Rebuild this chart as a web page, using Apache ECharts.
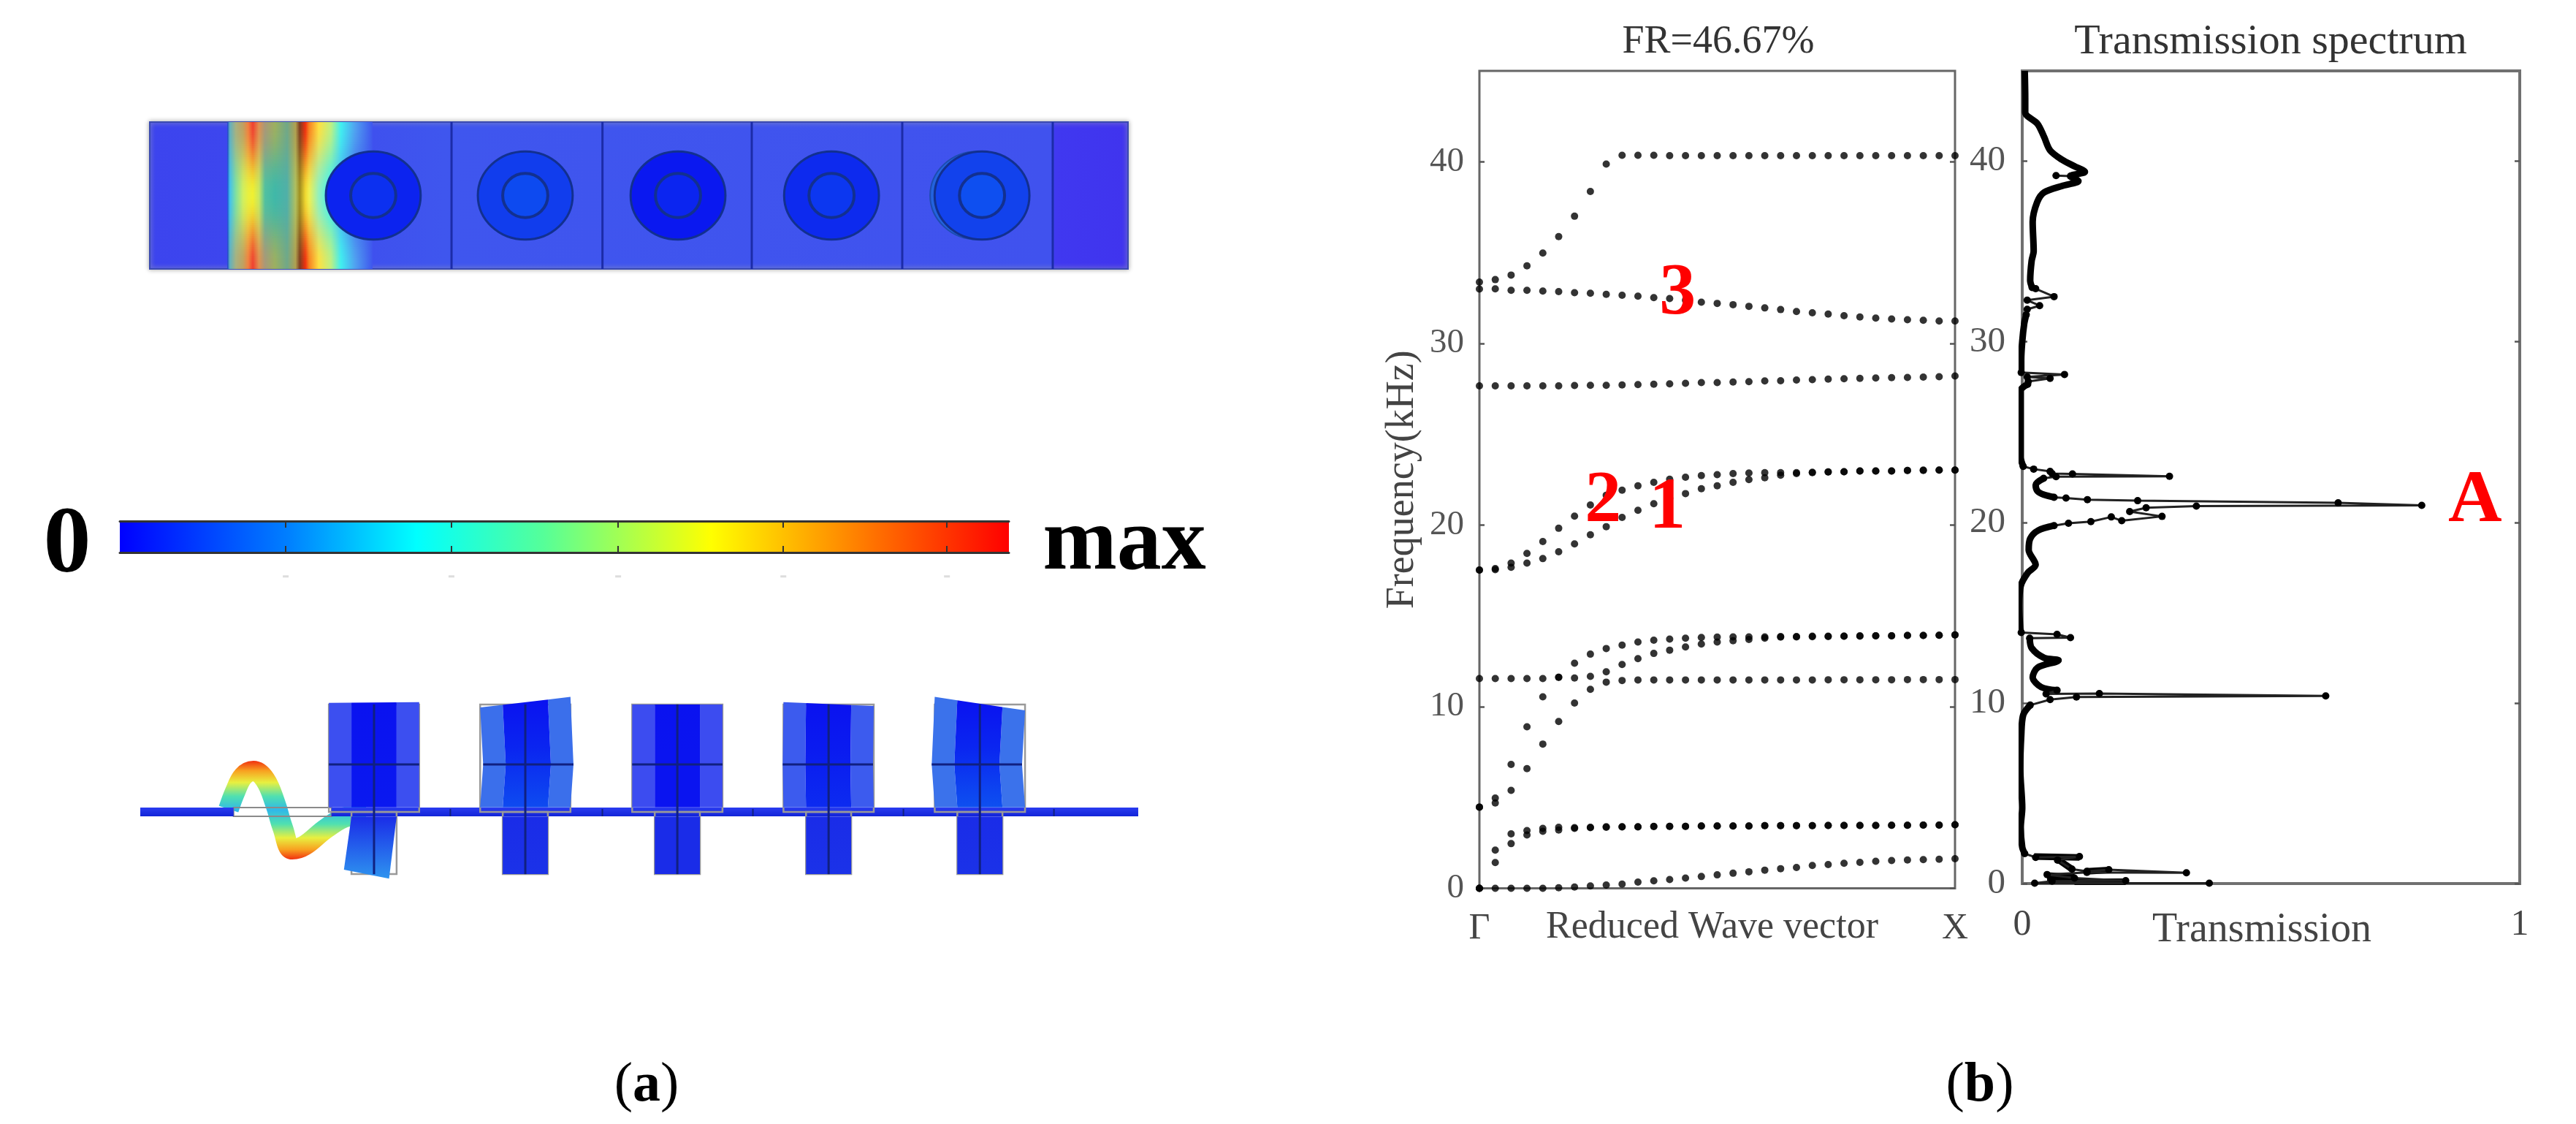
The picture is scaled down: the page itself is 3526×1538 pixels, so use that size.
<!DOCTYPE html>
<html>
<head>
    <meta charset="UTF-8">
    <title>FR=46.67%</title>
    <script src="https://cdn.jsdelivr.net/npm/echarts@6/dist/echarts.min.js"></script>
    <style>
        html, body { margin: 0; padding: 0; background: #fff; }
        #chart { width: 3526px; height: 1538px; }
    </style>
</head>
<body>
<div id="chart"></div>
<script>
    // ---- panel (b), band structure: one value per k point, 31 points from Gamma to X
    var bandAcousticA = [0, 1.42, 2.46, 2.94, 3.14, 3.21, 3.30, 3.34, 3.36, 3.38, 3.38, 3.40, 3.41, 3.41, 3.43, 3.43, 3.43, 3.43, 3.45, 3.45, 3.45, 3.45, 3.46, 3.46, 3.46, 3.46, 3.47, 3.47, 3.48, 3.48, 3.50];
    var bandAcousticB = [0, 2.10, 3.00, 3.18, 3.30, 3.36, 3.34, 3.36, 3.39, 3.39, 3.39, 3.41, 3.41, 3.41, 3.43, 3.43, 3.43, 3.43, 3.45, 3.45, 3.45, 3.45, 3.46, 3.46, 3.46, 3.46, 3.47, 3.47, 3.48, 3.48, 3.50];
    var bandLowest = [0, 0, 0, 0, 0, 0.03, 0.07, 0.13, 0.18, 0.23, 0.34, 0.41, 0.48, 0.56, 0.65, 0.74, 0.83, 0.91, 1.00, 1.08, 1.15, 1.26, 1.31, 1.38, 1.43, 1.49, 1.53, 1.56, 1.58, 1.60, 1.63];
    var bandRiseLow = [4.47, 4.70, 5.39, 6.59, 7.94, 9.18, 10.20, 10.95, 11.92, 12.32, 12.64, 12.93, 13.11, 13.29, 13.45, 13.56, 13.63, 13.70, 13.77, 13.83, 13.84, 13.85, 13.86, 13.88, 13.88, 13.90, 13.90, 13.92, 13.92, 13.93, 13.95];
    var bandRiseHigh = [4.47, 4.97, 6.82, 8.89, 10.54, 11.62, 12.39, 12.89, 13.20, 13.39, 13.56, 13.66, 13.72, 13.77, 13.81, 13.83, 13.84, 13.84, 13.84, 13.86, 13.86, 13.88, 13.88, 13.88, 13.90, 13.90, 13.90, 13.92, 13.92, 13.93, 13.95];
    var bandFlat = [11.55, 11.55, 11.55, 11.55, 11.55, 11.62, 11.58, 11.67, 11.35, 11.44, 11.47, 11.47, 11.47, 11.47, 11.47, 11.47, 11.47, 11.47, 11.47, 11.47, 11.47, 11.47, 11.48, 11.48, 11.48, 11.48, 11.48, 11.49, 11.49, 11.49, 11.49];
    var bandMode1 = [17.52, 17.54, 17.67, 17.90, 18.15, 18.53, 18.96, 19.46, 19.91, 20.42, 20.81, 21.17, 21.46, 21.73, 22.00, 22.16, 22.35, 22.50, 22.60, 22.74, 22.83, 22.88, 22.92, 22.93, 22.97, 22.97, 22.97, 23.00, 23.00, 23.02, 23.02];
    var bandMode2 = [17.52, 17.60, 17.90, 18.44, 19.09, 19.82, 20.49, 21.10, 21.64, 21.92, 22.16, 22.35, 22.52, 22.63, 22.72, 22.77, 22.83, 22.86, 22.88, 22.88, 22.88, 22.90, 22.92, 22.93, 22.97, 22.97, 22.97, 23.00, 23.02, 23.02, 23.02];
    var bandNear28 = [27.66, 27.66, 27.66, 27.66, 27.66, 27.66, 27.68, 27.69, 27.69, 27.71, 27.73, 27.75, 27.77, 27.80, 27.84, 27.84, 27.87, 27.89, 27.93, 27.94, 27.98, 28.00, 28.03, 28.05, 28.07, 28.09, 28.11, 28.12, 28.14, 28.16, 28.20];
    var bandMode3 = [32.99, 33.00, 32.92, 32.92, 32.88, 32.85, 32.79, 32.76, 32.70, 32.65, 32.60, 32.52, 32.47, 32.38, 32.27, 32.20, 32.13, 32.04, 31.95, 31.86, 31.75, 31.68, 31.61, 31.52, 31.45, 31.39, 31.34, 31.30, 31.27, 31.23, 31.23];
    var bandTop = [33.37, 33.51, 33.76, 34.27, 34.97, 35.88, 37.00, 38.36, 39.87, 40.35, 40.35, 40.35, 40.33, 40.33, 40.33, 40.33, 40.33, 40.33, 40.33, 40.33, 40.33, 40.33, 40.33, 40.33, 40.33, 40.33, 40.33, 40.33, 40.33, 40.33, 40.33];
    var bands = [bandLowest, bandAcousticA, bandAcousticB, bandRiseLow, bandRiseHigh, bandFlat, bandMode1, bandMode2, bandNear28, bandMode3, bandTop];

    var freqTicks = [0, 10, 20, 30, 40];
    var modeMarks = [[7.8, 21.3, '2'], [11.85, 20.9, '1'], [12.5, 32.74, '3']];

    // ---- panel (b), transmission spectrum: [transmission, frequency]
    var specBody = [
        [[0.005, 45], [0.006, 43.5], [0.006, 42.7], [0.031, 42.06], [0.044, 41.34], [0.056, 40.6], [0.08, 40.08], [0.105, 39.72], [0.126, 39.41], [0.097, 39.17], [0.113, 38.9], [0.08, 38.63], [0.044, 38.27], [0.03, 37.73], [0.021, 36.64], [0.023, 35], [0.019, 34.5], [0.016, 33.4], [0.02, 33]],
        [[0.008, 31.5], [0.004, 31], [0, 30], [-0.002, 29], [-0.002, 28.3]],
        [[0.011, 27.65], [-0.003, 27.3], [-0.003, 25.4], [-0.003, 23.6], [0.002, 23.1]],
        [[0.043, 22.44], [0.027, 22.08], [0.031, 21.72], [0.043, 21.54], [0.064, 21.39]],
        [[0.064, 19.82], [0.032, 19.55], [0.016, 19.1], [0.013, 18.47], [0.027, 17.65], [0.011, 17.2], [-0.003, 16.48], [-0.006, 15.39], [-0.004, 14.13], [-0.002, 13.9]],
        [[0.015, 13.59], [0.019, 13.04], [0.044, 12.5], [0.073, 12.36], [0.031, 11.96], [0.021, 11.42], [0.038, 10.88], [0.07, 10.7]],
        [[0.016, 9.88], [0.002, 9.34], [-0.002, 8.17], [-0.004, 6.36], [0, 4.19], [-0.003, 3.11], [0, 2.02], [0.005, 1.66]],
        // dense stretches of the cluster near 0 to 1.5 kHz
        [[0.024, 1.5], [0.115, 1.45]],
        [[0.071, 1.35], [0.1, 0.8]],
        [[0.13, 0.68], [0.174, 0.75]],
        [[0.05, 0.45], [0.105, 0.35]],
        [[0.05, 0.25], [0.105, 0.25]],
        [[0.105, 0.1], [0.208, 0.1]]
    ];
    var specSpikes = [
        [[0.097, 39.17], [0.068, 39.2]],
        [[0.02, 33], [0.027, 32.94], [0.064, 32.5], [0.01, 32.3], [0.035, 32], [0.01, 31.8], [0.008, 31.5]],
        [[-0.002, 28.3], [0.085, 28.19], [0.01, 28.05], [0.056, 27.97], [0.012, 27.8], [0.011, 27.65]],
        [[0.002, 23.1], [0.023, 22.95], [0.056, 22.82], [0.06, 22.7], [0.101, 22.68], [0.296, 22.55], [0.068, 22.53], [0.043, 22.44]],
        [[0.064, 21.39], [0.088, 21.35], [0.131, 21.26], [0.232, 21.2], [0.635, 21.08], [0.803, 20.94], [0.35, 20.9], [0.249, 20.81], [0.216, 20.6], [0.281, 20.33], [0.2, 20.09], [0.179, 20.3], [0.138, 20.04], [0.093, 19.95], [0.064, 19.82]],
        [[-0.002, 13.9], [0.07, 13.8], [0.097, 13.62], [0.015, 13.59]],
        [[0.07, 10.7], [0.048, 10.5], [0.155, 10.52], [0.61, 10.39], [0.109, 10.33], [0.056, 10.19], [0.016, 9.88]],
        [[0.005, 1.66], [0.027, 1.45], [0.115, 1.5], [0.071, 1.3], [0.1, 0.8], [0.13, 0.68], [0.174, 0.77], [0.33, 0.6], [0.13, 0.62], [0.05, 0.5], [0.105, 0.3], [0.208, 0.16], [0.06, 0.13], [0.025, 0.02], [0.376, 0.02]]
    ];
    var peakMarks = [[0.91, 21.15, 'A']];

    // ---- panel (a), colour bar
    var barStops = [[0, '#0000ff'], [0.19, '#0080ff'], [0.334, '#00ffff'], [0.476, '#55ff99'], [0.665, '#ffff00'], [0.85, '#ff7000'], [1, '#ff0000']];
    var barTicks = [0.1866, 0.373, 0.5605, 0.7463, 0.9303];

    // ---- panel (a), top view, in unit cells: the travelling wave band read across two rows
    var bandStopAt = [0, 0.017, 0.059, 0.109, 0.143, 0.176, 0.218, 0.26, 0.328, 0.412, 0.47, 0.499, 0.538, 0.563, 0.63, 0.714, 0.782, 0.882, 1];
    var bandEdgeRow = ['#1c40c8', '#60b0c0', '#a8b080', '#c0a060', '#f08040', '#f04030', '#e09050', '#a89878', '#9cb060', '#70a888', '#b0a050', '#803c20', '#f03010', '#f88020', '#ffe040', '#c0f080', '#40f0f0', '#50a0f0', '#3f56ee'];
    var bandMidRow = ['#1c50d0', '#40c0f0', '#80e0a0', '#d0f060', '#e8f040', '#f0f030', '#c8e860', '#50c0a0', '#40b8a8', '#50b0a8', '#b0c060', '#a09020', '#f0d830', '#f0f050', '#90f0c0', '#40f0f0', '#50b0f0', '#4068f0', '#3f56ee'];
    var cellLines = [2.005, 3.008, 4.0, 5.0, 6.0];
    var cylinderX = [1.485, 2.495, 3.51, 4.53, 5.53];
    var cylinderAmp = [0.12, 0.42, 0, 0.2, 0.48];
    var cylinderWobble = [0, 0, 0, 0, 0.03];

    // ---- panel (a), side view, in unit cells: deformed shape of each pillar
    var pillarX = [1.553, 2.558, 3.568, 4.573, 5.578];
    var pillarAmp = [0.05, 0.6, 0, 0.25, 0.65];
    var pillarTopLeft = [0.01, -0.02, 0, 0.015, 0.05];
    var pillarTopRight = [0.015, 0.05, 0, -0.01, -0.04];
    var pillarBow = [0, 0.02, 0, -0.005, -0.02];
    var pillarFootShift = [-0.05, 0, 0, 0, 0];
    var footAmp = [0.9, 0.05, 0, 0.05, 0.05];
    var plateSpans = [[0, 0.62], [1.27, 6.63]];
    var plateMarks = [2.06, 3.07, 4.07, 5.07, 6.07];
    var waveX = [0.587, 0.631, 0.684, 0.752, 0.83, 0.898, 0.947, 1.01, 1.092, 1.238, 1.383, 1.5];
    var waveY = [0.019, 0.136, 0.238, 0.272, 0.214, 0.053, -0.107, -0.248, -0.223, -0.107, -0.029, -0.02];

    var serif = '"Liberation Serif", "Times New Roman", serif';

    function hexRgb(h) {
        return [parseInt(h.substr(1, 2), 16), parseInt(h.substr(3, 2), 16), parseInt(h.substr(5, 2), 16)];
    }
    function mix(a, b, t) {
        var p = hexRgb(a), q = hexRgb(b);
        return 'rgb(' + [0, 1, 2].map(function (i) { return Math.round(p[i] + (q[i] - p[i]) * t); }).join(',') + ')';
    }
    function hGrad(stops) {
        return new echarts.graphic.LinearGradient(0, 0, 1, 0, stops);
    }
    function vGrad(stops) {
        return new echarts.graphic.LinearGradient(0, 0, 0, 1, stops);
    }

    // text placed by page position
    function caption(text, x, y, size, opt) {
        opt = opt || {};
        return {
            text: text, left: x, top: y, padding: 0, textAlign: 'center',
            textStyle: {
                fontFamily: serif, fontSize: size, fontWeight: opt.weight || 'normal', color: opt.color || '#333',
                rich: opt.rich
            }
        };
    }

    // a box in data units
    function boxShape(api, x0, x1, y0, y1) {
        var a = api.coord([x0, y1]), b = api.coord([x1, y0]);
        return { x: a[0], y: a[1], width: b[0] - a[0], height: b[1] - a[1] };
    }

    function renderField(params, api) {
        var kids = [];
        kids.push({
            type: 'rect', shape: boxShape(api, 0, 6.5, -0.5, 0.5),
            style: {
                fill: hGrad([{ offset: 0, color: '#3c44ee' }, { offset: 0.079, color: '#3d46ee' }, { offset: 0.3, color: '#3f56ee' }, { offset: 0.92, color: '#4052ee' }, { offset: 0.925, color: '#4038f0' }, { offset: 1, color: '#4034ee' }]),
                stroke: '#3a4ab0', lineWidth: 2, shadowBlur: 6, shadowColor: '#aaa'
            }
        });
        // the wave band, built as thin rows so the colours can pinch towards mid height
        var rows = 67;
        for (var r = 0; r < rows; r++) {
            var s = Math.sin(Math.PI * (r + 0.5) / rows), w = s * s;
            var stops = bandStopAt.map(function (at, i) {
                return { offset: at, color: mix(bandEdgeRow[i], bandMidRow[i], w) };
            });
            kids.push({
                type: 'rect',
                shape: boxShape(api, 0.515, 1.48, -0.5 + r / rows, Math.min(0.5, -0.5 + (r + 1.5) / rows)),
                style: { fill: hGrad(stops) }
            });
        }
        return { type: 'group', children: kids };
    }

    function renderCellLine(params, api) {
        var a = api.coord([api.value(0), -0.5]), b = api.coord([api.value(0), 0.5]);
        return { type: 'line', shape: { x1: a[0], y1: a[1], x2: b[0], y2: b[1] }, style: { stroke: '#1c2ca8', lineWidth: 3 } };
    }

    function renderCylinder(params, api) {
        var c = api.coord([api.value(0), 0]), amp = api.value(1), wob = api.size([api.value(2), 0])[0];
        var rx = api.size([0.315, 0])[0], ry = api.size([0, 0.3])[1];
        var rx2 = api.size([0.15, 0])[0], ry2 = api.size([0, 0.15])[1];
        var ring = mix('#0a18f0', '#1a70e8', amp), core = mix('#0a18f0', '#1070f0', Math.min(1, amp + 0.15));
        var kids = [];
        if (wob > 0) {
            kids.push({ type: 'ellipse', shape: { cx: c[0] - wob, cy: c[1], rx: rx, ry: ry }, style: { fill: mix('#1a70e8', '#3050d0', 0.4), stroke: '#1d4cb0', lineWidth: 2 } });
        }
        kids.push({ type: 'ellipse', shape: { cx: c[0], cy: c[1], rx: rx, ry: ry }, style: { fill: ring, stroke: '#123090', lineWidth: 3 } });
        kids.push({ type: 'ellipse', shape: { cx: c[0], cy: c[1], rx: rx2, ry: ry2 }, style: { fill: core, stroke: '#123090', lineWidth: 4 } });
        return { type: 'group', children: kids };
    }

    function renderBar(params, api) {
        var stops = barStops.map(function (s) { return { offset: s[0], color: s[1] }; });
        var kids = [{ type: 'rect', shape: boxShape(api, 0, 1, 0, 1), style: { fill: hGrad(stops) } }];
        barTicks.forEach(function (t) {
            // faint residue of the old tick labels under the bar
            var p = api.coord([t, -0.75]);
            kids.push({ type: 'rect', shape: { x: p[0] - 4, y: p[1] - 1, width: 8, height: 3 }, style: { fill: '#ddd' } });
        });
        return { type: 'group', children: kids };
    }

    function renderPlate(params, api) {
        var kids = [{
            type: 'rect', shape: boxShape(api, 0.62, 1.27, -0.029, 0.029),
            style: { fill: 'none', stroke: '#8a8a8a', lineWidth: 2 }
        }];
        plateSpans.forEach(function (sp) {
            kids.push({
                type: 'rect', shape: boxShape(api, sp[0], sp[1], -0.029, 0.029),
                style: { fill: vGrad([{ offset: 0, color: '#2a3cf0' }, { offset: 1, color: '#1224d8' }]) }
            });
        });
        plateMarks.forEach(function (x) {
            kids.push({ type: 'rect', shape: boxShape(api, x - 0.005, x + 0.005, -0.029, 0.02), style: { fill: '#102080' } });
        });
        return { type: 'group', children: kids };
    }

    function renderPillar(params, api) {
        var i = params.dataIndex, x0 = api.value(0), amp = pillarAmp[i];
        var topV = 0.714, midV = 0.316, baseV = 0.03, footV = -0.413;
        function topAt(u) {
            return topV + pillarTopLeft[i] + (pillarTopRight[i] - pillarTopLeft[i]) * (u + 0.3) / 0.6;
        }
        function upper(u0, u1) {
            return [
                api.coord([x0 + u0, baseV]), api.coord([x0 + u0 + pillarBow[i], midV]), api.coord([x0 + u0, topAt(u0)]),
                api.coord([x0 + u1, topAt(u1)]), api.coord([x0 + u1 + pillarBow[i], midV]), api.coord([x0 + u1, baseV])
            ];
        }
        function lower(u0, u1) {
            var s = pillarFootShift[i];
            return [
                api.coord([x0 + u0, -baseV]), api.coord([x0 + u0 + s, footV + s * u0 / 0.15 * 0.6]),
                api.coord([x0 + u1 + s, footV + s * u1 / 0.15 * 0.6]), api.coord([x0 + u1, -baseV])
            ];
        }
        var outer = mix('#3c4cf0', '#3a86e8', amp);
        var inner = vGrad([{ offset: 0, color: '#0a12f0' }, { offset: 0.45, color: mix('#0a14f0', '#0a30f0', amp) }, { offset: 1, color: mix('#0a14f0', '#1070f0', amp) }]);
        var foot = vGrad([{ offset: 0, color: '#1a2ce8' }, { offset: 1, color: mix('#1a2ce8', '#30a0f0', footAmp[i]) }]);
        var line = '#102080';
        var kids = [
            // grey outline of the undeformed pillar
            { type: 'rect', shape: boxShape(api, x0 - 0.3, x0 + 0.3, 0, topV), style: { fill: 'none', stroke: '#999', lineWidth: 2.5 } },
            { type: 'rect', shape: boxShape(api, x0 - 0.15, x0 + 0.15, footV, 0), style: { fill: 'none', stroke: '#999', lineWidth: 2.5 } },
            { type: 'polygon', shape: { points: upper(-0.3, -0.15) }, style: { fill: outer } },
            { type: 'polygon', shape: { points: upper(0.15, 0.3) }, style: { fill: outer } },
            { type: 'polygon', shape: { points: upper(-0.15, 0.15) }, style: { fill: inner } },
            { type: 'polygon', shape: { points: lower(-0.15, 0.15) }, style: { fill: foot } },
            { type: 'polyline', shape: { points: [api.coord([x0, footV]), api.coord([x0, topV])] }, style: { fill: 'none', stroke: line, lineWidth: 3 } },
            { type: 'polyline', shape: { points: [api.coord([x0 - 0.3 + pillarBow[i], midV]), api.coord([x0 + 0.3 + pillarBow[i], midV])] }, style: { fill: 'none', stroke: line, lineWidth: 3 } }
        ];
        return { type: 'group', children: kids };
    }

    function hiddenAxes(gridIndex, xMax, yMin, yMax) {
        return {
            x: { type: 'value', gridIndex: gridIndex, min: 0, max: xMax, show: false },
            y: { type: 'value', gridIndex: gridIndex, min: yMin, max: yMax, show: false }
        };
    }
    var fieldAxes = hiddenAxes(0, 6.5, -0.5, 0.5);
    var sideAxes = hiddenAxes(2, 6.63, -0.723, 1.024);

    // colour bar has real ticks top and bottom
    function barAxis(pos) {
        return {
            type: 'value', gridIndex: 1, min: 0, max: 1, position: pos, z: 5,
            axisLine: { show: true, lineStyle: { color: '#333', width: 3 } },
            axisTick: { show: true, inside: true, length: 9, customValues: barTicks, lineStyle: { color: '#333', width: 2 } },
            axisLabel: { show: false }, splitLine: { show: false }
        };
    }

    function freqAxis(gridIndex, pos, size, margin) {
        return {
            type: 'value', gridIndex: gridIndex, min: 0, max: 45, position: pos,
            axisLine: { show: false },
            axisTick: { show: true, inside: true, length: 7, customValues: freqTicks, lineStyle: { color: '#555', width: 2.5 } },
            axisLabel: { show: pos === 'left', customValues: freqTicks, fontSize: size, margin: margin, color: '#555', fontFamily: serif },
            splitLine: { show: false }
        };
    }

    var series = [
        { type: 'custom', xAxisIndex: 0, yAxisIndex: 0, renderItem: renderField, data: [[0, 0]], clip: false, silent: true },
        { type: 'custom', xAxisIndex: 0, yAxisIndex: 0, renderItem: renderCellLine, data: cellLines.map(function (x) { return [x, 0]; }), clip: false, silent: true },
        {
            type: 'custom', xAxisIndex: 0, yAxisIndex: 0, renderItem: renderCylinder, clip: false, silent: true,
            data: cylinderX.map(function (x, i) { return [x, cylinderAmp[i], cylinderWobble[i]]; }),
            encode: { x: 0 }
        },
        { type: 'custom', xAxisIndex: 1, yAxisIndex: 1, renderItem: renderBar, data: [[0, 0]], clip: false, silent: true },
        {
            type: 'line', xAxisIndex: 3, yAxisIndex: 2, smooth: 0.4, symbol: 'none', silent: true, clip: false, z: 2,
            data: waveX.map(function (x, i) { return [x, waveY[i]]; }),
            lineStyle: {
                width: 28,
                color: vGrad([
                    { offset: 0, color: '#f03010' }, { offset: 0.1, color: '#f8a020' }, { offset: 0.22, color: '#e8f040' },
                    { offset: 0.36, color: '#50e0b0' }, { offset: 0.5, color: '#30b8e8' }, { offset: 0.64, color: '#50e0b0' },
                    { offset: 0.78, color: '#e8f040' }, { offset: 0.9, color: '#f8a020' }, { offset: 1, color: '#f03010' }
                ])
            }
        },
        { type: 'custom', xAxisIndex: 3, yAxisIndex: 2, renderItem: renderPlate, data: [[0, 0]], clip: false, silent: true, z: 3 },
        {
            type: 'custom', xAxisIndex: 3, yAxisIndex: 2, renderItem: renderPillar, clip: false, silent: true, z: 4,
            data: pillarX.map(function (x) { return [x, 0]; })
        }
    ];

    bands.forEach(function (band) {
        series.push({
            type: 'scatter', xAxisIndex: 4, yAxisIndex: 3, symbolSize: 10, clip: false, silent: true,
            itemStyle: { color: '#000' },
            data: band.map(function (v, i) { return [i, v]; })
        });
    });
    series.push({
        type: 'scatter', xAxisIndex: 4, yAxisIndex: 3, symbolSize: 1, z: 6, silent: true,
        itemStyle: { color: '#ff0000', opacity: 0 },
        label: {
            show: true, position: 'inside', fontSize: 100, fontWeight: 'bold', color: '#ff0000', opacity: 1, fontFamily: serif, textBorderWidth: 0,
            formatter: function (p) { return p.value[2]; }
        },
        data: modeMarks
    });

    specBody.forEach(function (seg) {
        series.push({
            type: 'line', xAxisIndex: 5, yAxisIndex: 5, symbol: 'none', smooth: 0.3, clip: false, silent: true,
            lineStyle: { color: '#000', width: 9 }, data: seg
        });
    });
    specSpikes.forEach(function (seg) {
        series.push({
            type: 'line', xAxisIndex: 5, yAxisIndex: 5, symbol: 'circle', symbolSize: 10, clip: false, silent: true,
            itemStyle: { color: '#000' }, lineStyle: { color: '#222', width: 3 }, data: seg
        });
    });
    series.push({
        type: 'scatter', xAxisIndex: 5, yAxisIndex: 5, symbolSize: 1, z: 6, silent: true,
        itemStyle: { color: '#ff0000', opacity: 0 },
        label: {
            show: true, position: 'inside', fontSize: 102, fontWeight: 'bold', color: '#ff0000', opacity: 1, fontFamily: serif, textBorderWidth: 0,
            formatter: function (p) { return p.value[2]; }
        },
        data: peakMarks
    });

    var myChart = echarts.init(document.getElementById('chart'));
    var option = {
        backgroundColor: '#fff',
        animation: false,
        tooltip: { show: false },
        title: [
            caption('FR=46.67%', 2352, 31, 54),
            caption('Transmission spectrum', 3108, 29, 58),
            caption('0', 92, 683, 130, { weight: 'bold', color: '#000' }),
            caption('max', 1539, 685, 122, { weight: 'bold', color: '#000' }),
            caption('({b|a})', 885, 1448, 76, { color: '#000', rich: { b: { fontSize: 76, fontWeight: 'bold', fontFamily: serif, color: '#000' } } }),
            caption('({b|b})', 2710, 1448, 76, { color: '#000', rich: { b: { fontSize: 76, fontWeight: 'bold', fontFamily: serif, color: '#000' } } })
        ],
        grid: [
            { left: 205, top: 167, width: 1339, height: 201 },
            { left: 164, top: 713, width: 1217, height: 43 },
            { left: 192, top: 900, width: 1366, height: 360 },
            { left: 2025, top: 97, width: 651, height: 1118.5, show: true, borderColor: '#666', borderWidth: 3, backgroundColor: '#fff' },
            { left: 2768, top: 97, width: 681, height: 1112, show: true, borderColor: '#707070', borderWidth: 4, backgroundColor: '#fff' }
        ],
        xAxis: [
            fieldAxes.x,
            barAxis('bottom'),
            barAxis('top'),
            sideAxes.x,
            {
                type: 'value', gridIndex: 3, min: 0, max: 30,
                axisLine: { show: false }, axisTick: { show: false }, splitLine: { show: false },
                axisLabel: {
                    customValues: [0, 30], fontSize: 50, margin: 30, color: '#444', fontFamily: serif,
                    formatter: function (v) { return v === 0 ? 'Γ' : 'X'; }
                },
                name: 'Reduced Wave vector', nameLocation: 'middle', nameGap: 28, nameMoveOverlap: false,
                nameTextStyle: { fontSize: 52, color: '#444', fontFamily: serif, padding: [0, 14, 0, 0], verticalAlign: 'top' }
            },
            {
                type: 'value', gridIndex: 4, min: 0, max: 1,
                axisLine: { show: false }, axisTick: { show: false }, splitLine: { show: false },
                axisLabel: { customValues: [0, 1], fontSize: 50, margin: 32, color: '#444', fontFamily: serif },
                name: 'Transmission', nameLocation: 'middle', nameGap: 36, nameMoveOverlap: false,
                nameTextStyle: { fontSize: 56, color: '#444', fontFamily: serif, padding: [0, 25, 0, 0], verticalAlign: 'top' }
            }
        ],
        yAxis: [
            fieldAxes.y,
            { type: 'value', gridIndex: 1, min: 0, max: 1, show: false },
            sideAxes.y,
            Object.assign(freqAxis(3, 'left', 47, 21), {
                name: 'Frequency(kHz)', nameLocation: 'middle', nameGap: 78, nameMoveOverlap: false,
                nameTextStyle: { fontSize: 54, color: '#444', fontFamily: serif }
            }),
            freqAxis(3, 'right', 47, 21),
            freqAxis(4, 'left', 49, 23),
            freqAxis(4, 'right', 49, 23)
        ],
        series: series
    };

    myChart.setOption(option);
</script>
</body>
</html>
